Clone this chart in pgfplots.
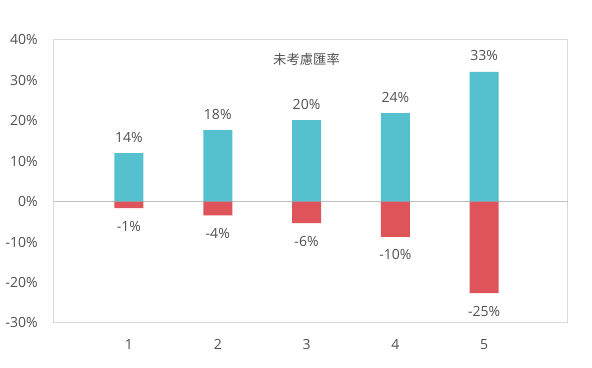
\documentclass[border=0pt]{standalone}
\usepackage{pgfplots}
\pgfplotsset{compat=1.18}
\usepackage{pgfplotstable}
\usetikzlibrary{calc}
\usepackage{fontspec}
\setmainfont{Open Sans}
\newfontfamily\cjk{Noto Sans CJK TC}
\definecolor{teal1}{HTML}{56C1CE}
\definecolor{red1}{HTML}{DF535A}
\definecolor{txt}{HTML}{505050}
\definecolor{frame}{HTML}{D9D9D9}
\definecolor{zero}{HTML}{BFBFBF}
\pgfplotstableread{
x pos plab
1 12.0 14
2 17.7 18
3 20.2 20
4 21.9 24
5 32.1 33
}\postab
\pgfplotstableread{
x neg nlab
1 -1.6 -1
2 -3.4 -4
3 -5.3 -6
4 -8.7 -10
5 -22.6 -25
}\negtab
\begin{document}
\begin{tikzpicture}
\begin{axis}[
  scale only axis,
  width=385.5pt, height=212.25pt,
  xmin=0.155, xmax=5.946,
  ymin=-30, ymax=40,
  axis line style={frame, line width=0.75pt},
  major tick length=0pt,
  xtick={1,2,3,4,5},
  xticklabels={1,2,3,4,5},
  ytick={-30,-20,-10,0,10,20,30,40},
  yticklabels={-30\%,-20\%,-10\%,0\%,10\%,20\%,30\%,40\%},
  extra y ticks={0},
  extra y tick labels={},
  extra y tick style={grid=major, major grid style={zero, line width=0.75pt}},
  yticklabel style={font=\fontsize{10.5}{12}\selectfont, text=txt, inner sep=0pt, anchor=east, xshift=-12pt},
  xticklabel style={font=\fontsize{10.5}{12}\selectfont, text=txt, inner sep=0pt, anchor=north, yshift=-12pt},
  ybar, bar width=21.75pt, bar shift=0pt,
  clip=false,
  point meta=explicit symbolic,
  nodes near coords={\pgfplotspointmeta\%},
  every node near coord/.append style={font=\fontsize{10.5}{12}\selectfont, text=txt, anchor=center, inner sep=0pt},
]
\addplot[fill=teal1, draw=none, every node near coord/.append style={yshift=12pt}] table[x=x, y=pos, meta=plab] {\postab};
\addplot[fill=red1, draw=none, every node near coord/.append style={yshift=-13.5pt}] table[x=x, y=neg, meta=nlab] {\negtab};
\node[font=\cjk\fontsize{10}{12}\selectfont, text=txt] at (axis cs:3,35.1) {未考慮匯率};
\end{axis}
\path ($(current axis.south west)+(-40.5pt,-33.75pt)$) rectangle ($(current axis.north east)+(18pt,30pt)$);
\end{tikzpicture}
\end{document}
